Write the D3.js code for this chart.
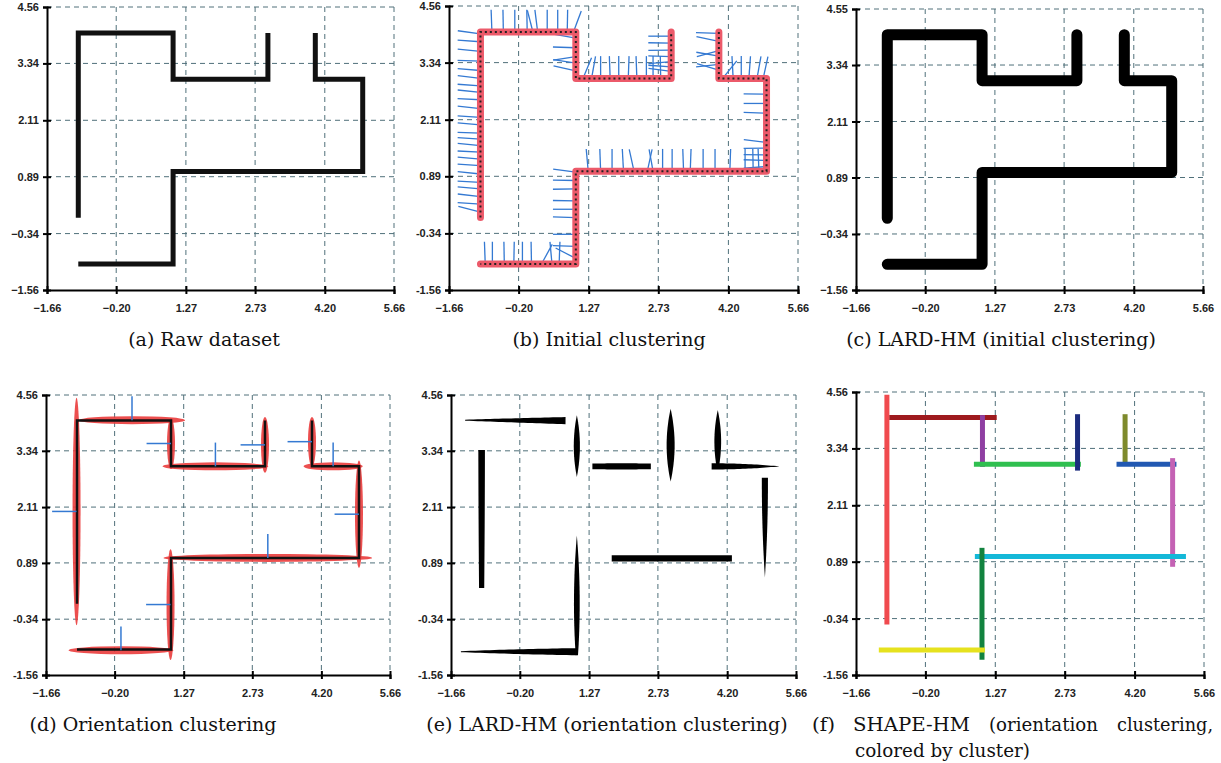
<html>
<script src='https://d3js.org/d3.v7.min.js'></script>
<style>
 body {margin:0; background:#fff;}
 .tick text {font-family: 'Liberation Sans', Arial, sans-serif; font-size: 11px; font-weight: bold; fill: #222;}
 .cap {font-family: 'DejaVu Serif', serif; font-size: 19px; fill: #111;}
</style>
<body onload='init()'>
<svg width=1221 height=763></svg>
<script>
// axis ticks (shared by all six panels)
const xTicks = [-1.66, -0.20, 1.27, 2.73, 4.20, 5.66];
const xTickLabels = ["−1.66", "−0.20", "1.27", "2.73", "4.20", "5.66"];
const yTicks = [-1.56, -0.34, 0.89, 2.11, 3.34, 4.56];
const yTickLabelsLong = ["−1.56", "−0.34", "0.89", "2.11", "3.34", "4.56"];
const yTickLabelsShort = ["-1.56", "-0.34", "0.89", "2.11", "3.34", "4.56"];
const yTickLabelsC = ["−1.56", "−0.34", "0.89", "2.11", "3.34", "4.55"];

// the raw dataset: two polylines
const rawPath1 = [[-1, 0], [-1, 4], [1, 4], [1, 3], [3, 3], [3, 4]];
const rawPath2 = [[4, 4], [4, 3], [5, 3], [5, 1], [1, 1], [1, -1], [-1, -1]];

// initial clustering normals: [x, y, angle in degrees]
const normalsB = [
  [-1,3.96,172],[-1,3.79,176],[-1,3.58,174],[-1,3.37,178],[-1,3.17,175],[-1,3.0,173],
  [-1,2.84,176],[-1,2.70,174],[-1,2.54,177],[-1,2.35,174],[-1,2.16,176],[-1,2.0,175],
  [-1,1.82,178],[-1,1.69,176],[-1,1.55,174],[-1,1.41,177],[-1,1.26,175],[-1,1.12,176],
  [-1,0.94,174],[-1,0.76,177],[-1,0.62,175],[-1,0.45,173],[-1,0.29,176],[-1,0.12,165],
  [-0.76,4,92],[-0.52,4,91],[-0.28,4,90],[-0.02,4,91],[0.1,4,104],[0.2,4,97],
  [0.4,4,90],[0.62,4,90],[0.82,4,89],[0.95,4,70],
  [1,3.87,170],[1,3.66,178],[1,3.47,189],[1,3.33,171],[1,3.16,167],
  [1.15,3,68],[1.33,3,80],[1.52,3,90],[1.72,3,92],[1.9,3,90],[2.1,3,88],
  [2.28,3,92],[2.48,3,90],[2.62,3,90],[2.78,3,91],
  [3,3.91,180],[3,3.76,179],[3,3.61,181],[3,3.47,178],[3,3.36,185],[3,3.25,176],[3,3.15,172],
  [4,3.97,178],[4,3.80,168],[4,3.6,196],[4,3.48,170],[4,3.3,186],[4,3.18,163],
  [4.08,3,52],[4.3,3,93],[4.47,3,90],[4.63,3,86],[4.8,3,80],[4.93,3,78],
  [5,2.93,172],[5,2.66,179],[5,2.46,180],[5,2.25,178],[5,1.62,173],[5,1.5,181],
  [5,1.35,179],[5,1.23,178],[5,1.1,184],
  [1.26,1,95],[1.52,1,92],[1.76,1,90],[2.0,1,93],[2.22,1,102],[2.5,1,78],[2.62,1,100],
  [2.82,1,90],[3.02,1,90],[3.26,1,92],[3.4,1,88],[3.67,1,90],[3.92,1,90],[4.23,1,88],
  [4.55,1,90],[4.72,1,91],[4.84,1,92],
  [1,0.98,172],[1,0.8,179],[1,0.62,181],[1,0.36,179],[1,0.18,180],[1,0.0,178],
  [1,-0.36,180],[1,-0.62,178],[1,-0.88,152],
  [-0.9,-1,92],[-0.75,-1,90],[-0.5,-1,91],[-0.3,-1,89],[-0.12,-1,90],[0.07,-1,91],
  [0.28,-1,62],[0.5,-1,95],[0.65,-1,88]
];
const normalLen = 0.48;

// orientation clusters: [x1, y1, x2, y2]
const clusters = [
  [-1.01, 4.50, -1.01, -0.47],
  [-0.96, 4.01, 1.30, 4.01],
  [1.0, 4.06, 1.0, 2.94],
  [0.82, 3.0, 3.07, 3.0],
  [3.0, 4.08, 3.0, 2.86],
  [4.0, 4.08, 4.0, 3.0],
  [3.82, 3.0, 5.08, 3.0],
  [5.0, 3.13, 5.0, 0.78],
  [0.84, 1.0, 5.28, 1.0],
  [0.99, 1.19, 0.99, -1.23],
  [-1.18, -1.02, 1.05, -1.02]
];
const clusterColors = ["#f04a4e", "#9e1a1e", "#8f3fa2", "#2fbf4f", "#1c2c7e", "#7e8a2c",
                       "#2158b2", "#c462b4", "#14b8d8", "#12833f", "#e6e21e"];

// LARD-HM ellipses (orientation clustering): [x1, y1, x2, y2, spread start, middle, end]
const lardShapes = [
  [-1.36, 4.01, 0.77, 4.0, 0.02, 0.09, 0.15],
  [1.01, 4.12, 1.01, 2.77, 0.0, 0.13, 0.0],
  [1.34, 3.0, 2.58, 3.0, 0.12, 0.13, 0.12],
  [3.0, 4.26, 3.0, 2.67, 0.0, 0.17, 0.0],
  [4.0, 4.23, 4.0, 3.05, 0.0, 0.14, 0.07],
  [3.87, 3.0, 5.31, 3.0, 0.13, 0.1, 0.0],
  [5.0, 2.75, 5.0, 0.57, 0.13, 0.1, 0.0],
  [1.75, 0.99, 4.3, 0.99, 0.13, 0.13, 0.13],
  [-1.01, 3.36, -1.01, 0.34, 0.14, 0.13, 0.11],
  [1.01, 1.49, 1.01, -1.13, 0.0, 0.12, 0.05],
  [-1.45, -1.05, 1.0, -1.05, 0.02, 0.1, 0.15]
];

const captions = ["(a) Raw dataset", "(b) Initial clustering", "(c) LARD-HM (initial clustering)",
                  "(d) Orientation clustering", "(e) LARD-HM (orientation clustering)"];
const captionF1 = ["(f)", "SHAPE-HM", "(orientation", "clustering,"];
const captionF2 = "colored by cluster)";

function init() {
  const svg = d3.select('svg');
  const panels = [
    {left: 47, right: 394, top: 7, bottom: 290, yLab: yTickLabelsLong, cap: 204, capY: 346},
    {left: 449, right: 798, top: 6, bottom: 290, yLab: yTickLabelsShort, cap: 609, capY: 346},
    {left: 856, right: 1203, top: 9, bottom: 290, yLab: yTickLabelsC, cap: 1001, capY: 346},
    {left: 46, right: 390, top: 395, bottom: 675, yLab: yTickLabelsShort, cap: 153, capY: 731},
    {left: 451, right: 796, top: 395, bottom: 675, yLab: yTickLabelsShort, cap: 607, capY: 731},
    {left: 856, right: 1204, top: 392, bottom: 675, yLab: yTickLabelsShort}
  ];

  panels.forEach((p, k) => {
    const x = d3.scaleLinear().domain([xTicks[0], xTicks[5]]).range([p.left, p.right]);
    const y = d3.scaleLinear().domain([yTicks[0], yTicks[5]]).range([p.bottom, p.top]);
    const g = svg.append('g');

    // dashed grid
    const grid = g.append('g').attr('stroke', '#50707a').attr('stroke-width', 1).attr('stroke-dasharray', '5,4');
    grid.selectAll('.gx').data(xTicks.slice(1)).join('line')
      .attr('x1', d => x(d)).attr('x2', d => x(d)).attr('y1', p.top).attr('y2', p.bottom);
    grid.selectAll('.gy').data(yTicks.slice(1)).join('line')
      .attr('y1', d => y(d)).attr('y2', d => y(d)).attr('x1', p.left).attr('x2', p.right);

    const line = d3.line().x(d => x(d[0])).y(d => y(d[1]));
    const ux = x(1) - x(0);

    if (k == 0) {
      g.selectAll('.raw').data([rawPath1, rawPath2]).join('path')
        .attr('d', line).attr('fill', 'none').attr('stroke', '#111').attr('stroke-width', 5)
        .attr('stroke-linejoin', 'miter');
    }
    if (k == 1) {
      g.selectAll('.nrm').data(normalsB).join('line')
        .attr('x1', d => x(d[0])).attr('y1', d => y(d[1]))
        .attr('x2', d => x(d[0] + normalLen * Math.cos(d[2] * Math.PI / 180)))
        .attr('y2', d => y(d[1] + normalLen * Math.sin(d[2] * Math.PI / 180)))
        .attr('stroke', '#3479d2').attr('stroke-width', 1.3);
      g.selectAll('.red').data([rawPath1, rawPath2]).join('path')
        .attr('d', line).attr('fill', 'none').attr('stroke', '#ec5a6a').attr('stroke-width', 7)
        .attr('stroke-linejoin', 'round').attr('stroke-linecap', 'round');
      g.selectAll('.dot').data([rawPath1, rawPath2]).join('path')
        .attr('d', line).attr('fill', 'none').attr('stroke', '#222').attr('stroke-width', 2)
        .attr('stroke-dasharray', '2,3');
    }
    if (k == 2) {
      g.selectAll('.thick').data([rawPath1, rawPath2]).join('path')
        .attr('d', line).attr('fill', 'none').attr('stroke', '#000').attr('stroke-width', 11)
        .attr('stroke-linejoin', 'round').attr('stroke-linecap', 'round');
    }
    if (k == 3) {
      g.selectAll('.ell').data(clusters).join('ellipse')
        .attr('cx', d => x((d[0] + d[2]) / 2)).attr('cy', d => y((d[1] + d[3]) / 2))
        .attr('rx', d => d[0] == d[2] ? 4 : Math.abs(x(d[2]) - x(d[0])) / 2)
        .attr('ry', d => d[0] == d[2] ? Math.abs(y(d[3]) - y(d[1])) / 2 : 4)
        .attr('fill', '#ea3c3c').attr('fill-opacity', 0.9);
      g.selectAll('.raw').data([rawPath1, rawPath2]).join('path')
        .attr('d', line).attr('fill', 'none').attr('stroke', '#111').attr('stroke-width', 2.5);
      g.selectAll('.nrm').data(clusters).join('line')
        .attr('x1', d => x((d[0] + d[2]) / 2)).attr('y1', d => y((d[1] + d[3]) / 2))
        .attr('x2', d => x((d[0] + d[2]) / 2 - (d[0] == d[2] ? 0.52 : 0)))
        .attr('y2', d => y((d[1] + d[3]) / 2 + (d[0] == d[2] ? 0 : 0.52)))
        .attr('stroke', '#3479d2').attr('stroke-width', 1.5);
    }
    if (k == 4) {
      g.selectAll('.lard').data(lardShapes).join('path')
        .attr('d', s => {
          const [x1, y1, x2, y2, t1, tm, t2] = s;
          const w = t => t1 * 2 * (t - 0.5) * (t - 1) - tm * 4 * t * (t - 1) + t2 * 2 * t * (t - 0.5);
          const ax = x(x1), ay = y(y1), bx = x(x2), by = y(y2);
          const len = Math.hypot(bx - ax, by - ay), nx = -(by - ay) / len, ny = (bx - ax) / len;
          const up = [], dn = [];
          for (let i = 0; i <= 24; i++) {
            const t = i / 24, h = Math.max(0, w(t)) * ux / 2;
            const cx = ax + (bx - ax) * t, cy = ay + (by - ay) * t;
            up.push([cx + nx * h, cy + ny * h]);
            dn.push([cx - nx * h, cy - ny * h]);
          }
          return d3.line()(up.concat(dn.reverse())) + 'Z';
        })
        .attr('fill', '#000');
    }
    if (k == 5) {
      g.selectAll('.seg').data(clusters).join('line')
        .attr('x1', d => x(d[0])).attr('y1', d => y(d[1]))
        .attr('x2', d => x(d[2])).attr('y2', d => y(d[3]))
        .attr('stroke', (d, i) => clusterColors[i]).attr('stroke-width', 5);
    }

    // axes
    const ax = g.append('g').attr('transform', `translate(0,${p.bottom})`)
      .call(d3.axisBottom(x).tickValues(xTicks).tickFormat((d, i) => xTickLabels[i]).tickSizeOuter(0).tickSize(4));
    ax.selectAll('.tick line').attr('y1', -4).attr('stroke', '#000').attr('stroke-width', 2);
    ax.selectAll('.tick text').attr('y', 14);
    ax.select('.domain').attr('stroke', '#000').attr('stroke-width', 2);
    const ay = g.append('g').attr('transform', `translate(${p.left},0)`)
      .call(d3.axisLeft(y).tickValues(yTicks).tickFormat((d, i) => p.yLab[i]).tickSizeOuter(0).tickSize(4));
    ay.selectAll('.tick line').attr('x1', 4).attr('stroke', '#000').attr('stroke-width', 2);
    ay.selectAll('.tick text').attr('x', -8);
    ay.select('.domain').attr('stroke', '#000').attr('stroke-width', 2);
    ax.attr('font-family', null).attr('font-size', null);
    ay.attr('font-family', null).attr('font-size', null);

    if (k < 5) {
      svg.append('text').attr('class', 'cap').attr('x', p.cap).attr('y', p.capY)
        .attr('text-anchor', 'middle').text(captions[k]);
    }
  });

  // caption (f), justified over two lines
  const fx = [812, 853, 989, 1117];
  const fw = [23, 117, 109, 96];
  captionF1.forEach((w, i) => {
    svg.append('text').attr('class', 'cap').attr('x', fx[i]).attr('y', 731)
      .attr('textLength', fw[i]).attr('lengthAdjust', 'spacingAndGlyphs').text(w);
  });
  svg.append('text').attr('class', 'cap').attr('x', 855).attr('y', 757)
    .attr('textLength', 175).attr('lengthAdjust', 'spacingAndGlyphs').text(captionF2);
}
</script>
</body>
</html>
